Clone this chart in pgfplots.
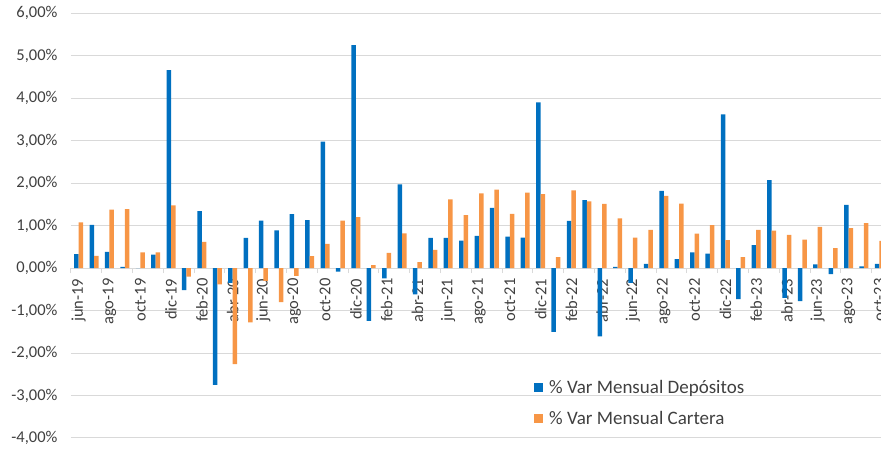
\documentclass[border=0pt]{standalone}
\usepackage{fontspec}
\setmainfont{Carlito}
\usepackage{pgfplots}
\usepackage{pgfplotstable}
\pgfplotsset{compat=1.18}
\definecolor{dep}{HTML}{0070C0}
\definecolor{car}{HTML}{F79646}
\definecolor{gridc}{HTML}{D9D9D9}
\definecolor{txt}{HTML}{404040}

\pgfplotstableread{
i dep car
0 0.33 1.08
1 1.02 0.29
2 0.38 1.38
3 0.03 1.39
4 0.00 0.37
5 0.32 0.37
6 4.66 1.48
7 -0.52 -0.20
8 1.34 0.62
9 -2.75 -0.38
10 -0.35 -2.26
11 0.71 -1.28
12 1.12 -0.30
13 0.89 -0.80
14 1.27 -0.18
15 1.13 0.28
16 2.98 0.57
17 -0.08 1.12
18 5.25 1.20
19 -1.24 0.07
20 -0.24 0.36
21 1.97 0.82
22 -0.62 0.14
23 0.71 0.43
24 0.71 1.62
25 0.65 1.25
26 0.76 1.76
27 1.42 1.85
28 0.74 1.28
29 0.72 1.78
30 3.90 1.74
31 -1.50 0.26
32 1.11 1.83
33 1.60 1.57
34 -1.61 1.51
35 0.03 1.17
36 -0.35 0.72
37 0.10 0.90
38 1.82 1.70
39 0.21 1.52
40 0.37 0.81
41 0.34 1.01
42 3.62 0.66
43 -0.73 0.26
44 0.54 0.90
45 2.07 0.88
46 -0.70 0.78
47 -0.78 0.67
48 0.09 0.97
49 -0.14 0.47
50 1.49 0.94
51 0.04 1.06
52 0.10 0.64
}\datatable

\begin{document}
\begin{tikzpicture}
\begin{axis}[
  scale only axis, width=816bp, height=424.7bp,
  xmin=-0.5, xmax=52.5, ymin=-4, ymax=6,
  ybar=0pt, bar width=4.5bp,
  axis y line=left, axis x line=middle,
  y axis line style={draw=none},
  x axis line style={draw=gridc, line width=1bp, -},
  every inner x axis line/.append style={-},
  ytick={-4,-3,-2,-1,0,1,2,3,4,5,6},
  yticklabels={{-4,00\%},{-3,00\%},{-2,00\%},{-1,00\%},{0,00\%},{1,00\%},{2,00\%},{3,00\%},{4,00\%},{5,00\%},{6,00\%}},
  ymajorgrids, grid style={draw=gridc, line width=1bp},
  xtick={0,2,...,52},
  xticklabels={jun-19,ago-19,oct-19,dic-19,feb-20,abr-20,jun-20,ago-20,oct-20,dic-20,feb-21,abr-21,jun-21,ago-21,oct-21,dic-21,feb-22,abr-22,jun-22,ago-22,oct-22,dic-22,feb-23,abr-23,jun-23,ago-23,oct-23},
  minor xtick={-0.5,1.5,...,51.5},
  major tick length=0bp, minor tick length=5bp, tick align=outside,
  minor x tick style={draw=gridc, line width=1bp},
  ytick style={draw=none},
  x tick label style={rotate=90, anchor=east, font=\fontsize{16.5bp}{19bp}\selectfont, text=txt},
  xticklabel shift=7bp,
  y tick label style={font=\fontsize{16.5bp}{19bp}\selectfont, text=txt},
  yticklabel shift=10bp,
  hide obscured x ticks=false, hide obscured y ticks=false,
  legend style={at={(rel axis cs:0.5674,0.141)}, anchor=north west, draw=none, fill=none,
    font=\fontsize{19bp}{22bp}\selectfont, text=txt, row sep=12bp, column sep=4bp, inner sep=0pt,
    nodes={inner sep=2bp}},
  legend cell align=left,
  legend image code/.code={\fill[#1] (0bp,-4.5bp) rectangle (9bp,4.5bp);},
]
\addplot[fill=dep, draw=none] table[x=i,y=dep]{\datatable};
\addplot[fill=car, draw=none] table[x=i,y=car]{\datatable};
\legend{\% Var Mensual Depósitos, \% Var Mensual Cartera}
\end{axis}
\pgfresetboundingbox
\path[use as bounding box] (-71bp,-11bp) rectangle (810bp,438bp);
\end{tikzpicture}
\end{document}
